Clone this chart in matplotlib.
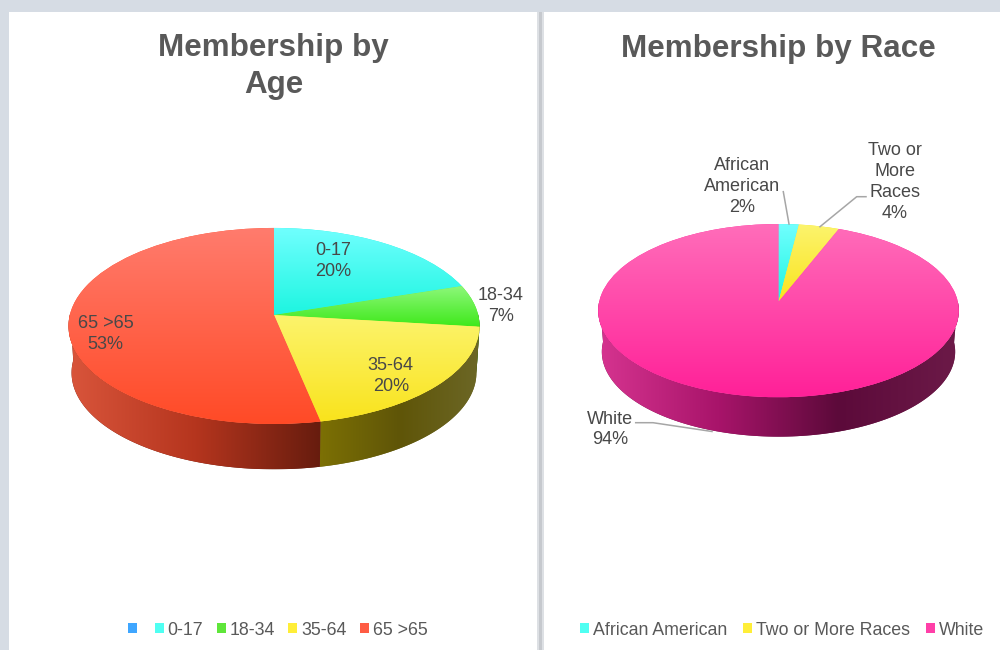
import numpy as np
import matplotlib
matplotlib.use("Agg")
import matplotlib.pyplot as plt
from matplotlib.colors import to_rgb
from matplotlib.patches import Patch, Polygon, Rectangle
from matplotlib.transforms import Transform

# ---- data ----
age_categories = ["", "0-17", "18-34", "35-64", "65 >65"]
age_values = [0, 20, 6.9, 19.85, 53.25]
race_categories = ["African American", "Two or More Races", "White"]
race_values = [2, 4, 94]
age_title = "Membership by\nAge"
race_title = "Membership by Race"

# ---- style ----
plt.rcParams["font.family"] = ["Liberation Sans", "DejaVu Sans"]
BG = "#D6DCE4"
TITLE_C = "#595959"
TEXT_C = "#484848"
LEADER_C = "#A6A6A6"
TITLE_FS = 22.6
LABEL_FS = 13.0
LEGEND_FS = 12.8

PALETTE = {
    "blue":   dict(key="#3FA6FF", top=("#3FA6FF", "#1F8CF0"), side=("#14508a", "#0c3050")),
    "cyan":   dict(key="#4FFFF2", top=("#72FFFF", "#1CF5E0"), side=("#0e8a80", "#0a5a55")),
    "green":  dict(key="#5FE63A", top=("#8FF87C", "#3CE818"), side=("#2a7a10", "#2a6a10")),
    "yellow": dict(key="#FFEE38", top=("#FCF46E", "#F9E31C"), side=("#7C7004", "#5F5508", "#6C6726")),
    "red":    dict(key="#FF5C44", top=("#FF7C6E", "#FF4A26"), side=("#D9553B", "#B5351E", "#661C0E")),
    "pink":   dict(key="#FF3FA8", top=("#FF6EBA", "#FF2098"), side=("#D63490", "#A8146A", "#5C0A3A", "#6C1A48")),
}
age_colors = ["blue", "cyan", "green", "yellow", "red"]
race_colors = ["cyan", "yellow", "pink"]


def gradient(stops, n=256):
    rgb = np.array([to_rgb(c) for c in stops])
    pos = np.linspace(0, 1, len(stops))
    t = np.linspace(0, 1, n)
    return np.stack([np.interp(t, pos, rgb[:, i]) for i in range(3)], axis=-1)


class Tilt(Transform):
    """Perspective view of the unit-circle pie; output in panel coordinates."""
    input_dims = output_dims = 2
    is_separable = False
    has_inverse = False

    def __init__(self, cx, cy, rx, ry, k, scale=1.0, drop=0.0):
        super().__init__()
        self.p = (cx, cy, rx, ry, k, scale, drop)

    def transform_non_affine(self, v):
        cx, cy, rx, ry, k, s, d = self.p
        v = np.asarray(v, float)
        w = 1 + k * v[:, 1]
        return np.column_stack((cx + s * rx * v[:, 0] / w, cy - s * ry * v[:, 1] / w + d))


def pie3d(ax, values, colors, geom, scale, drop):
    top = Tilt(*geom)
    low = Tilt(*geom, scale=scale, drop=drop)
    wedges, _ = ax.pie(values, startangle=90, counterclock=False, radius=1,
                       colors=[PALETTE[c]["top"][1] for c in colors])
    for wedge, cname in zip(wedges, colors):
        if wedge.theta2 - wedge.theta1 < 1e-6:
            wedge.set_visible(False)
            continue
        # side wall: only the part of the arc on the front of the pie
        a0 = wedge.theta1 % 360
        a1 = a0 + (wedge.theta2 - wedge.theta1)
        angles = np.linspace(a0, a1, 240)
        front = np.sin(np.radians(angles)) <= 0.02
        if front.any():
            th = np.radians(angles[front])
            unit = np.column_stack((np.cos(th), np.sin(th)))
            upper = top.transform(unit)
            lower = low.transform(unit)
            poly = np.vstack((upper, lower[::-1]))
            side = Polygon(poly, closed=True, fc=PALETTE[cname]["side"][-1], ec="none", zorder=1)
            ax.add_patch(side)
            x0, x1 = poly[:, 0].min(), poly[:, 0].max()
            y0, y1 = poly[:, 1].min(), poly[:, 1].max()
            im = ax.imshow(gradient(PALETTE[cname]["side"])[None, :, :], aspect="auto",
                           extent=(x0, x1, y1, y0), origin="upper",
                           interpolation="bilinear", zorder=1.5)
            im.set_clip_path(side)
    for wedge, cname in zip(wedges, colors):
        if not wedge.get_visible():
            continue
        wedge.set_transform(top + ax.transData)
        wedge.set_zorder(2)
        wedge.set_edgecolor("none")
        ext = top.transform_path(wedge.get_path()).get_extents()
        im = ax.imshow(gradient(PALETTE[cname]["top"])[:, None, :], aspect="auto",
                       extent=(ext.x0 - 1, ext.x1 + 1, ext.y1 + 1, ext.y0 - 1), origin="upper",
                       interpolation="bilinear", zorder=3)
        im.set_clip_path(wedge)


def finish(ax, box):
    ax.set_aspect("auto")
    ax.set_xlim(box[0], box[1])
    ax.set_ylim(box[3], box[2])
    ax.set_frame_on(True)
    ax.set_facecolor("white")
    for sp in ax.spines.values():
        sp.set_visible(False)
    ax.set_xticks([])
    ax.set_yticks([])


def legend(ax, cats, colors, xc, yc, colsp):
    handles = [Patch(fc=PALETTE[c]["key"], ec="none") for c in colors]
    ax.legend(handles, cats, ncol=len(cats), loc="center", bbox_to_anchor=(xc, yc),
              bbox_transform=ax.transData, frameon=False, fontsize=LEGEND_FS,
              labelcolor=TITLE_C, handlelength=0.5, handleheight=0.5,
              handletextpad=0.22, columnspacing=colsp, borderpad=0, borderaxespad=0)


W, H = 1000, 650
fig = plt.figure(figsize=(W / 100, H / 100), dpi=100, facecolor=BG)


def panel(x0, x1, y0, y1):
    return fig.add_axes([x0 / W, 1 - y1 / H, (x1 - x0) / W, (y1 - y0) / H])


# gutter between the two panels
fig.add_artist(Rectangle((537 / W, 0), 7 / W, 1 - 12 / H, transform=fig.transFigure, fc="#DDE0E4", ec="none"))
fig.add_artist(Rectangle((539 / W, 0), 3 / W, 1 - 12 / H, transform=fig.transFigure, fc="#C6C9CE", ec="none"))

# ---- age panel ----
box1 = (9, 537, 12, 650)
ax1 = panel(box1[0], box1[1], box1[2], box1[3])
pie3d(ax1, age_values, age_colors, (274, 315, 204.2, 96.8, 0.112), 0.985, 46.9)
finish(ax1, box1)
ax1.text(273.5, 66.5, age_title, ha="center", va="center", fontsize=TITLE_FS, fontweight="bold",
         color=TITLE_C, linespacing=1.33, zorder=6)
age_label_pos = {"0-17": (332.7, 261), "18-34": (500.7, 306), "35-64": (390.7, 376), "65 >65": (105.7, 334)}
for cat, val in zip(age_categories, age_values):
    if cat:
        x, y = age_label_pos[cat]
        ax1.text(x, y, f"{cat}\n{val:.0f}%", ha="center", va="center", fontsize=LABEL_FS,
                 color=TEXT_C, linespacing=1.3, zorder=6)
legend(ax1, age_categories, age_colors, 278, 630, 0.76)

# ---- race panel ----
box2 = (544, 1000, 12, 650)
ax2 = panel(box2[0], box2[1], box2[2], box2[3])
pie3d(ax2, race_values, race_colors, (778.5, 301.7, 179.3, 85.7, 0.103), 0.98, 41.3)
finish(ax2, box2)
ax2.text(778.5, 49, race_title, ha="center", va="center", fontsize=TITLE_FS, fontweight="bold",
         color=TITLE_C, zorder=6)
race_label_text = ["African\nAmerican", "Two or\nMore\nRaces", "White"]
race_label_pos = [(741.7, 186.5), (895, 182), (610, 429.5)]
race_leaders = [
    ([783.3, 789], [191.7, 224]),
    ([866, 856.7, 820], [196.7, 196.7, 226.7]),
    ([635.7, 653, 712], [422.7, 422.7, 431.5]),
]
for txt, val, (x, y), (lx, ly) in zip(race_label_text, race_values, race_label_pos, race_leaders):
    ax2.text(x, y, f"{txt}\n{val}%", ha="center", va="center", fontsize=LABEL_FS,
             color=TEXT_C, linespacing=1.3, zorder=6)
    ax2.plot(lx, ly, color=LEADER_C, lw=1.1, zorder=5)
legend(ax2, race_categories, race_colors, 782, 630, 0.9)

fig.savefig("out.png", dpi=100, facecolor=BG)
